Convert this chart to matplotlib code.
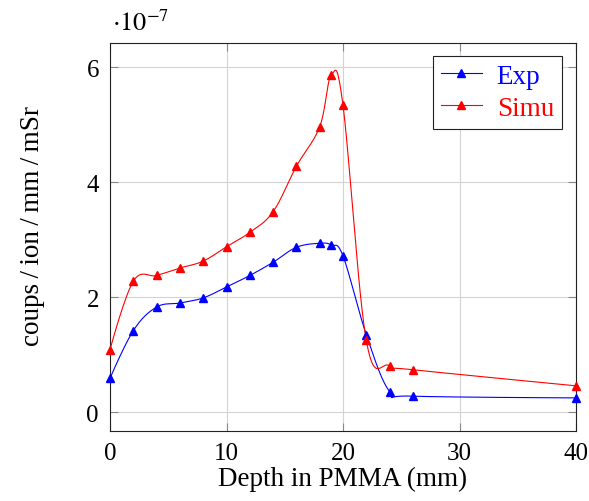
import numpy as np
import matplotlib
matplotlib.use("Agg")
import matplotlib.pyplot as plt
from matplotlib.lines import Line2D

# Data (values in units of 1e-7)
exp_x = [0, 2, 4, 6, 8, 10, 12, 14, 16, 18, 19, 20, 22, 24, 26, 40]
exp_y = [0.59, 1.42, 1.83, 1.90, 1.99, 2.18, 2.38, 2.61, 2.87, 2.94, 2.91, 2.72, 1.35, 0.36, 0.28, 0.25]
sim_x = [0, 2, 4, 6, 8, 10, 12, 14, 16, 18, 19, 20, 22, 24, 26, 40]
sim_y = [1.09, 2.28, 2.38, 2.51, 2.63, 2.88, 3.13, 3.49, 4.28, 4.97, 5.87, 5.34, 1.25, 0.81, 0.74, 0.46]

x_ticks = [0, 10, 20, 30, 40]
y_ticks = [0, 2, 4, 6]
series_labels = ["Exp", "Simu"]
series_colors = ["#0000ff", "#ff0000"]

plt.rcParams['font.family'] = ['Liberation Serif', 'DejaVu Serif']
plt.rcParams['mathtext.fontset'] = 'stix'
FS_TICK = 18
FS = 19.5


def smooth(xs, ys, f=0.18, n=40):
    """pgf-style smooth curve through points (cubic Beziers)."""
    P = np.column_stack([xs, ys]).astype(float)
    m = len(P)
    out = [P[0:1]]
    t = np.linspace(0, 1, n)[1:, None]
    for i in range(m - 1):
        p0, p3 = P[i], P[i + 1]
        c1 = p0 + f * (P[i + 1] - P[i - 1]) if i > 0 else p0
        c2 = p3 - f * (P[i + 2] - P[i]) if i + 2 < m else p3
        seg = ((1 - t) ** 3) * p0 + 3 * ((1 - t) ** 2) * t * c1 + 3 * (1 - t) * t ** 2 * c2 + t ** 3 * p3
        out.append(seg)
    Q = np.vstack(out)
    return Q[:, 0], Q[:, 1]


fig = plt.figure(figsize=(5.89, 5.02), dpi=100)
ax = fig.add_axes([110 / 589, 1 - 432 / 502, (576 - 110) / 589, (432 - 44) / 502])

for xs, ys, c in [(exp_x, exp_y, series_colors[0]), (sim_x, sim_y, series_colors[1])]:
    sx, sy = smooth(xs, ys)
    ax.plot(sx, sy, color=c, lw=0.8, zorder=3, clip_on=False)
    ax.plot(xs, ys, ls='none', marker='^', ms=5.5, color=c, zorder=4, clip_on=False)

ax.set_xlim(0, 40)
ax.set_ylim(-0.326, 6.425)
ax.set_xticks(x_ticks)
ax.set_yticks(y_ticks)
ax.set_xticklabels([str(v) for v in x_ticks])
ax.set_yticklabels([str(v) for v in y_ticks])
ax.grid(True, color='#d3d3d3', lw=0.8)
ax.set_axisbelow(True)
ax.tick_params(direction='in', length=6, width=0.8, color='#888888', labelsize=FS_TICK,
               top=True, right=True, pad=8)
for s in ax.spines.values():
    s.set_linewidth(0.8)
    s.set_color('#222222')

ax.set_xlabel("Depth in PMMA (mm)", fontsize=FS, labelpad=1)
ax.set_ylabel("coups\u2009/\u2009ion\u2009/\u2009mm\u2009/\u2009mSr", fontsize=FS)
ax.yaxis.set_label_coords(-0.14, 0.53)
ax.text(0.005, 1.02, r"$\cdot 10^{-7}$", transform=ax.transAxes, fontsize=FS_TICK + 1,
        ha='left', va='bottom')

handles = [Line2D([], [], color=c, lw=0.8, marker='^', ms=5.5) for c in series_colors]
leg = ax.legend(handles, series_labels, loc='upper right', fontsize=FS,
                labelcolor=series_colors, frameon=True, fancybox=False,
                edgecolor='#222222', framealpha=1, handlelength=1.5,
                handletextpad=0.55, borderpad=0.3, labelspacing=0.25,
                bbox_to_anchor=(0.97, 0.967), borderaxespad=0)
leg.get_frame().set_linewidth(0.8)

fig.savefig("out.png", dpi=100)
